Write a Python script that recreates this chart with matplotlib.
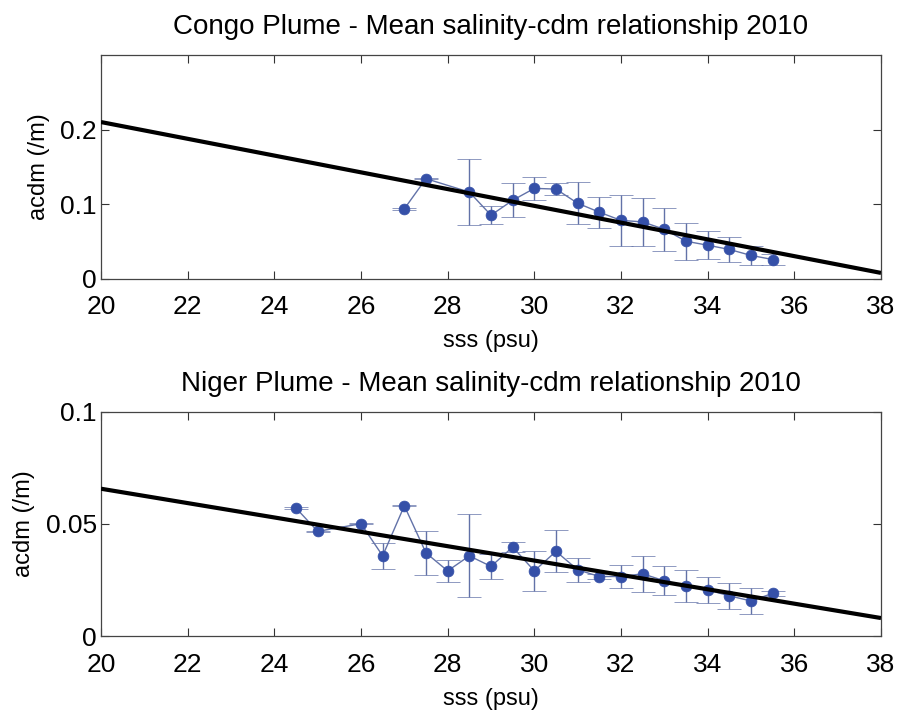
import matplotlib
matplotlib.use("Agg")
import matplotlib.pyplot as plt
import numpy as np

plt.rcParams['font.family'] = ['Liberation Sans', 'DejaVu Sans']

# Congo plume data
congo_sss = [27, 27.5, 28.5, 29, 29.5, 30, 30.5, 31, 31.5, 32, 32.5, 33, 33.5, 34, 34.5, 35, 35.5]
congo_cdm = [0.0935, 0.134, 0.116, 0.085, 0.105, 0.121, 0.120, 0.101, 0.089, 0.078, 0.076, 0.066,
             0.050, 0.0447, 0.039, 0.031, 0.0255]
congo_err = [0.001, 0.001, 0.044, 0.012, 0.023, 0.015, 0.008, 0.028, 0.021, 0.034, 0.032, 0.029,
             0.025, 0.0185, 0.0165, 0.0125, 0.007]
congo_fit = [0.21, -0.01125]   # intercept at sss=20, slope per psu

# Niger plume data
niger_sss = [24.5, 25, 26, 26.5, 27, 27.5, 28, 28.5, 29, 29.5, 30, 30.5, 31, 31.5, 32, 32.5,
             33, 33.5, 34, 34.5, 35, 35.5]
niger_cdm = [0.057, 0.0466, 0.050, 0.0357, 0.058, 0.037, 0.029, 0.0357, 0.031, 0.0396, 0.029,
             0.0377, 0.0295, 0.0265, 0.0265, 0.0277, 0.0246, 0.0223, 0.0205, 0.0179, 0.0156, 0.019]
niger_err = [0.0003, 0.0003, 0.0003, 0.0057, 0.0003, 0.0098, 0.005, 0.0185, 0.0057, 0.0022, 0.009,
             0.0093, 0.0054, 0.0012, 0.005, 0.008, 0.0064, 0.0073, 0.0058, 0.0058, 0.0056, 0.0012]
niger_fit = [0.0656, -0.0032]

xlim = (20, 38)
xticks = [20, 22, 24, 26, 28, 30, 32, 34, 36, 38]

fig = plt.figure(figsize=(8.99, 7.11), dpi=100)
W, H = 899, 711

def add_ax(left, top, right, bottom):
    return fig.add_axes([left / W, 1 - bottom / H, (right - left) / W, (bottom - top) / H])

ax1 = add_ax(101, 55, 881, 278.5)
ax2 = add_ax(101, 411.5, 881, 636)

mark_col = '#3550a8'
line_col = '#6272a8'

def draw(ax, sss, cdm, err, fit, ylim, yticks, yticklabels, title):
    ax.errorbar(sss, cdm, yerr=err, fmt='-o', color=line_col, ecolor=line_col, lw=1.0,
                elinewidth=1.0, capsize=8.3, capthick=1.0, markersize=7.8,
                markerfacecolor=mark_col, markeredgecolor=mark_col, markeredgewidth=0.5, zorder=2)
    xs = np.array(xlim)
    ax.plot(xs, fit[0] + fit[1] * (xs - 20), color='black', lw=3, zorder=3, solid_capstyle='butt')
    ax.set_xlim(*xlim)
    ax.set_ylim(*ylim)
    ax.set_xticks(xticks)
    ax.set_yticks(yticks)
    ax.set_yticklabels(yticklabels)
    ax.tick_params(direction='in', top=True, right=True, length=6, width=0.8,
                   labelsize=19, colors='#333333', labelcolor='black')
    ax.tick_params(axis='x', pad=12)
    ax.tick_params(axis='y', pad=3)
    for s in ax.spines.values():
        s.set_color('#444444')
        s.set_linewidth(0.9)
    ax.set_xlabel('sss (psu)', fontsize=17, labelpad=8)
    ax.set_ylabel('acdm (/m)', fontsize=17, labelpad=7.5)
    ax.set_title(title, fontsize=20, pad=15)

draw(ax1, congo_sss, congo_cdm, congo_err, congo_fit, (0, 0.3), [0, 0.1, 0.2], ['0', '0.1', '0.2'],
     'Congo Plume - Mean salinity-cdm relationship 2010')
draw(ax2, niger_sss, niger_cdm, niger_err, niger_fit, (0, 0.1), [0, 0.05, 0.1], ['0', '0.05', '0.1'],
     'Niger Plume - Mean salinity-cdm relationship 2010')

fig.savefig('out.png', dpi=100)
